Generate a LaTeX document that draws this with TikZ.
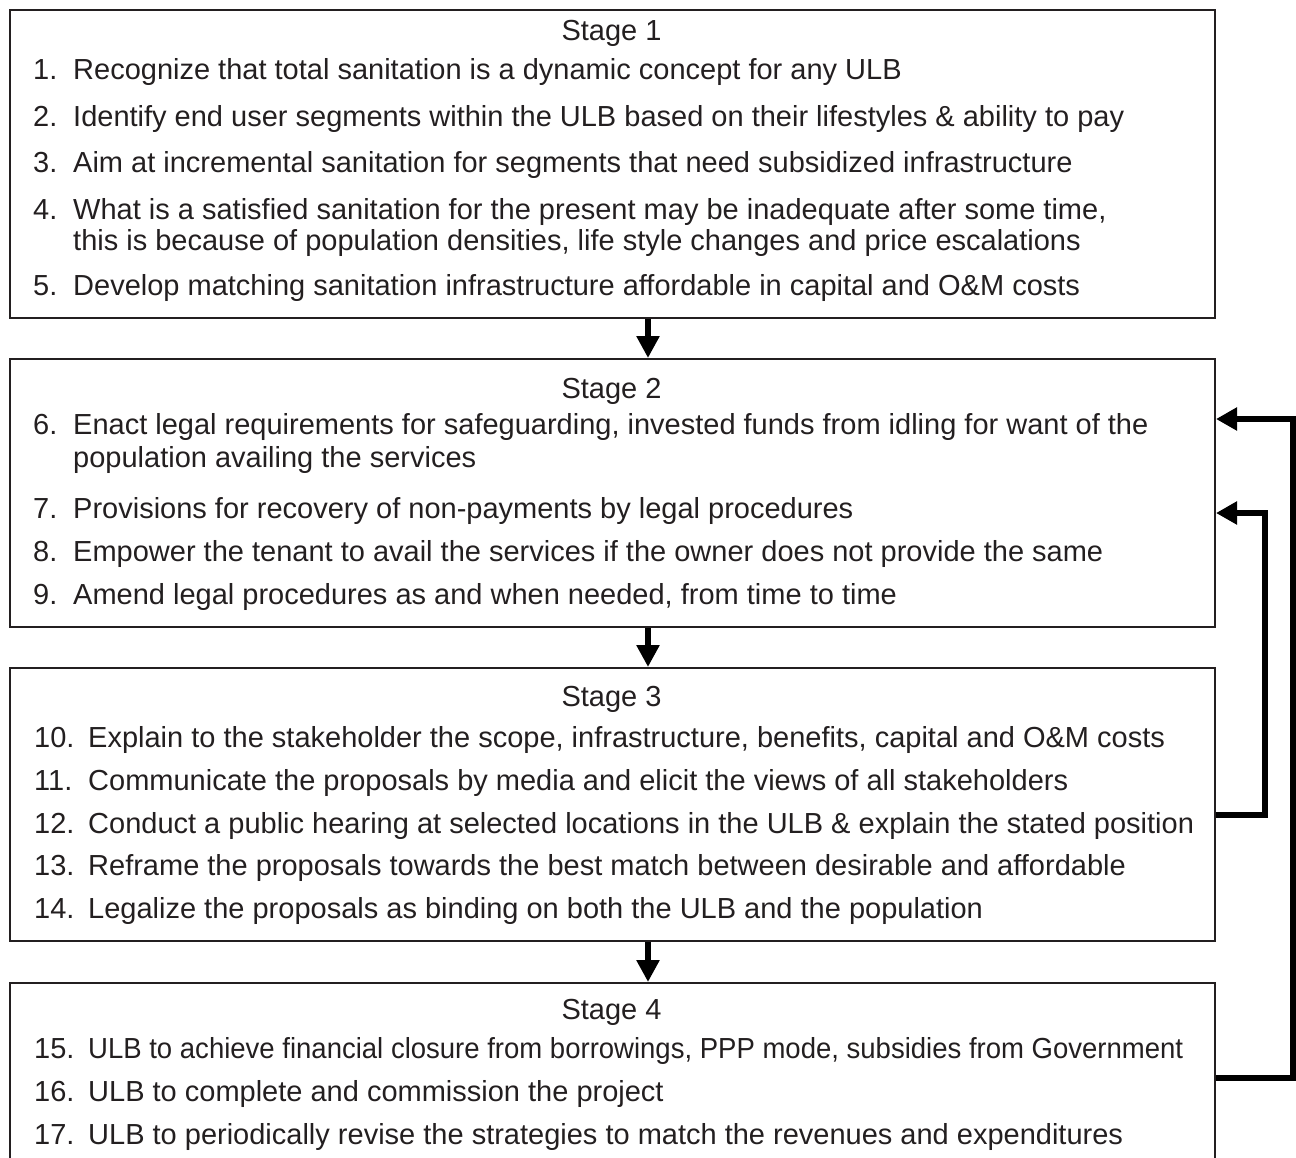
\documentclass[tikz,border=0pt]{standalone}
\usepackage{fontspec}
\setmainfont{Liberation Sans}
\usetikzlibrary{arrows.meta}
\definecolor{ink}{RGB}{35,31,32}
% narrow a line of text to a given width, keeping its height
\newcommand\fitto[2]{\resizebox{#1pt}{\height}{#2}}
\begin{document}
\begin{tikzpicture}[x=1pt,y=-1pt,
  box/.style={draw=ink, line width=2pt, inner sep=0pt, anchor=north west},
  num/.style={anchor=base west, inner sep=0pt, text=ink, font=\fontsize{29}{32}\selectfont},
  txt/.style={anchor=base west, inner sep=0pt, text=ink, font=\fontsize{29}{32}\selectfont},
  ttl/.style={anchor=base, inner sep=0pt, text=ink, font=\fontsize{29}{32}\selectfont},
  down/.style={draw=black, line width=6.5pt, -{Triangle[width=22pt,length=22pt]}},
  back/.style={draw=black, line width=5.5pt, line join=miter, -{Triangle[width=22pt,length=21pt]}}]
\useasboundingbox (0,0) rectangle (1296,1157);

% boxes
\node[box, minimum width=1205pt, minimum height=308pt] (s1) at (9,9) {};
\node[box, minimum width=1205pt, minimum height=268pt] (s2) at (9,358) {};
\node[box, minimum width=1205pt, minimum height=273pt] (s3) at (9,667) {};
\node[box, minimum width=1205pt, minimum height=220pt] (s4) at (9,982) {};

% Stage 1
\node[ttl] (t1) at (611.5,40) {Stage 1};
\node[num] (n1) at (33,79) {1.};
\node[txt] (l1) at (73,79) {Recognize that total sanitation is a dynamic concept for any ULB};
\node[num] (n2) at (33,126) {2.};
\node[txt] (l2) at (73,126) {Identify end user segments within the ULB based on their lifestyles \& ability to pay};
\node[num] (n3) at (33,172) {3.};
\node[txt] (l3) at (73,172) {Aim at incremental sanitation for segments that need subsidized infrastructure};
\node[num] (n4) at (33,219) {4.};
\node[txt] (l4) at (73,219) {What is a satisfied sanitation for the present may be inadequate after some time,};
\node[txt] (l4b) at (73,250) {this is because of population densities, life style changes and price escalations};
\node[num] (n5) at (33,295) {5.};
\node[txt] (l5) at (73,295) {Develop matching sanitation infrastructure affordable in capital and O\&M costs};

% Stage 2
\node[ttl] (t2) at (611.5,398) {Stage 2};
\node[num] (n6) at (33,434) {6.};
\node[txt] (l6) at (73,434) {Enact legal requirements for safeguarding, invested funds from idling for want of the};
\node[txt] (l6b) at (73,467) {population availing the services};
\node[num] (n7) at (33,518) {7.};
\node[txt] (l7) at (73,518) {Provisions for recovery of non-payments by legal procedures};
\node[num] (n8) at (33,561) {8.};
\node[txt] (l8) at (73,561) {Empower the tenant to avail the services if the owner does not provide the same};
\node[num] (n9) at (33,604) {9.};
\node[txt] (l9) at (73,604) {Amend legal procedures as and when needed, from time to time};

% Stage 3
\node[ttl] (t3) at (611.5,706) {Stage 3};
\node[num] (n10) at (34,747) {10.};
\node[txt] (l10) at (88,747) {Explain to the stakeholder the scope, infrastructure, benefits, capital and O\&M costs};
\node[num] (n11) at (34,790) {11.};
\node[txt] (l11) at (88,790) {Communicate the proposals by media and elicit the views of all stakeholders};
\node[num] (n12) at (34,833) {12.};
\node[txt] (l12) at (88,833) {Conduct a public hearing at selected locations in the ULB \& explain the stated position};
\node[num] (n13) at (34,875) {13.};
\node[txt] (l13) at (88,875) {Reframe the proposals towards the best match between desirable and affordable};
\node[num] (n14) at (34,918) {14.};
\node[txt] (l14) at (88,918) {Legalize the proposals as binding on both the ULB and the population};

% Stage 4
\node[ttl] (t4) at (611.5,1019) {Stage 4};
\node[num] (n15) at (34,1058) {15.};
\node[txt] (l15) at (88,1058) {\fitto{1095}{ULB to achieve financial closure from borrowings, PPP mode, subsidies from Government}};
\node[num] (n16) at (34,1101) {16.};
\node[txt] (l16) at (88,1101) {ULB to complete and commission the project};
\node[num] (n17) at (34,1144) {17.};
\node[txt] (l17) at (88,1144) {ULB to periodically revise the strategies to match the revenues and expenditures};

% down arrows
\coordinate (ax) at (648,0);
\draw[down] (s1.south -| ax) -- (s2.north -| ax);
\draw[down] (s2.south -| ax) -- (s3.north -| ax);
\draw[down] (s3.south -| ax) -- (s4.north -| ax);

% feedback arrows
\coordinate (xo) at (1293,0);
\coordinate (xi) at (1265,0);
\coordinate (yo4) at (0,1078);
\coordinate (yo2) at (0,419);
\coordinate (yi3) at (0,815);
\coordinate (yi2) at (0,513);
\draw[back] (s4.east |- yo4) -- (xo |- yo4) -- (xo |- yo2) -- (s2.east |- yo2);
\draw[back] (s3.east |- yi3) -- (xi |- yi3) -- (xi |- yi2) -- (s2.east |- yi2);
\end{tikzpicture}
\end{document}
